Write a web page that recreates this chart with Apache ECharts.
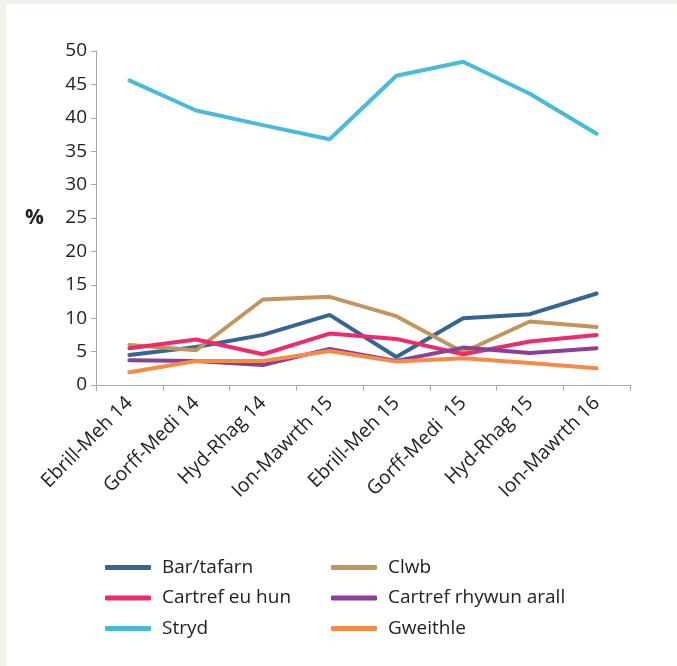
<!DOCTYPE html>
<html>
<head>
<meta charset="utf-8">
<script src="https://cdn.jsdelivr.net/npm/echarts@6/dist/echarts.min.js"></script>
<style>
  html, body { margin: 0; padding: 0; background: #f4f0ea; }
  #chart { position: absolute; left: 6px; top: 4px; width: 671px; height: 662px; background: #fff; }
</style>
</head>
<body>
<div id="chart"></div>
<script>
const categories = ['Ebrill-Meh 14', 'Gorff-Medi 14', 'Hyd-Rhag 14', 'Ion-Mawrth 15',
  'Ebrill-Meh 15', 'Gorff-Medi  15', 'Hyd-Rhag 15', 'Ion-Mawrth 16'];

const barTafarn = [4.5, 5.7, 7.5, 10.5, 4.2, 10.0, 10.6, 13.7];
const clwb = [6.0, 5.2, 12.8, 13.2, 10.3, 4.9, 9.5, 8.7];
const cartrefEuHun = [5.5, 6.8, 4.6, 7.7, 6.9, 4.6, 6.5, 7.5];
const cartrefRhywun = [3.7, 3.6, 3.0, 5.4, 3.6, 5.6, 4.8, 5.5];
const stryd = [45.6, 41.1, 38.9, 36.8, 46.3, 48.4, 43.6, 37.6];
const gweithle = [1.9, 3.6, 3.6, 5.1, 3.5, 4.0, 3.3, 2.5];

const yTicks = [0, 50, 5]; // min, max, interval

const font = '"Open Sans", "Noto Sans", sans-serif';

const chart = echarts.init(document.getElementById('chart'));

function line(name, data, color) {
  return {
    name: name,
    type: 'line',
    data: data,
    symbol: 'none',
    lineStyle: { width: 4, color: color, cap: 'round' },
    itemStyle: { color: color }
  };
}

function legend(left, names) {
  return {
    orient: 'vertical',
    left: left,
    top: 549,
    data: names,
    icon: 'roundRect',
    itemWidth: 46,
    itemHeight: 5,
    itemGap: 11.5,
    textStyle: { fontFamily: font, fontSize: 19, color: '#222', padding: [0, 0, 0, 6] }
  };
}

chart.setOption({
  animation: false,
  grid: { left: 90, top: 47, width: 534, height: 334 },
  legend: [
    legend(94, ['Bar/tafarn', 'Cartref eu hun', 'Stryd']),
    legend(320, ['Clwb', 'Cartref rhywun arall', 'Gweithle'])
  ],
  xAxis: {
    type: 'category',
    data: categories,
    axisLine: { lineStyle: { color: '#aaa', width: 1 } },
    axisTick: { show: true, length: 6, lineStyle: { color: '#aaa' } },
    axisLabel: { rotate: 45, fontFamily: font, fontSize: 19.5, color: '#222', margin: 15,
      padding: [18, 0, 0, 0], interval: 0 }
  },
  yAxis: {
    type: 'value',
    min: yTicks[0],
    max: yTicks[1],
    interval: yTicks[2],
    name: '%',
    nameLocation: 'middle',
    nameRotate: 0,
    nameGap: 52,
    nameTextStyle: { fontFamily: font, fontSize: 21, fontWeight: 'bold', color: '#222' },
    axisLine: { show: true, lineStyle: { color: '#aaa', width: 1 } },
    axisTick: { show: true, length: 5, lineStyle: { color: '#aaa' } },
    splitLine: { show: false },
    axisLabel: { fontFamily: font, fontSize: 19, color: '#222', margin: 9 }
  },
  series: [
    line('Bar/tafarn', barTafarn, '#336595'),
    line('Clwb', clwb, '#c1965c'),
    line('Cartref eu hun', cartrefEuHun, '#ee2a6b'),
    line('Cartref rhywun arall', cartrefRhywun, '#8c3f96'),
    line('Stryd', stryd, '#46bcd8'),
    line('Gweithle', gweithle, '#f68b45')
  ]
});
</script>
</body>
</html>
